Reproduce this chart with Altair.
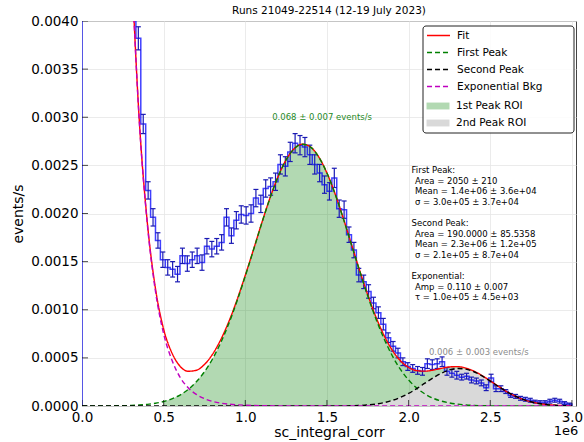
import altair as alt
import numpy as np
import pandas as pd

TITLE = "Runs 21049-22514 (12-19 July 2023)"
X_LABEL = "sc_integral_corr"
Y_LABEL = "events/s"
FONT = "DejaVu Sans"

# ---------------- histogram (x in units of 1e6, 100 bins of 0.03e6) ----------------
bin_edges = [round(0.03 * k, 2) for k in range(101)]
# bins 0-10 lie above the top of the axis (off-scale)
rate = [
    0.0050, 0.0050, 0.0050, 0.0050, 0.0050, 0.0050, 0.0050, 0.0050, 0.0050, 0.0050,
    0.0050, 0.00382, 0.00293, 0.00224, 0.00196, 0.00172, 0.00152, 0.00144, 0.00142, 0.00137,
    0.00156, 0.00148, 0.00152, 0.00156, 0.00149, 0.00166, 0.00163, 0.00166, 0.00170, 0.00196,
    0.00177, 0.00193, 0.00199, 0.00198, 0.00200, 0.00216, 0.00210, 0.00226, 0.00228, 0.00233,
    0.00251, 0.00249, 0.00264, 0.00273, 0.00271, 0.00269, 0.00261, 0.00251, 0.00242, 0.00230,
    0.00223, 0.00237, 0.00205, 0.00204, 0.00178, 0.00162, 0.00136, 0.00129, 0.00119, 0.00107,
    0.00097, 0.00085, 0.00071, 0.00062, 0.00055, 0.00046, 0.00041, 0.00039, 0.00037, 0.00036,
    0.00044, 0.00043, 0.00044, 0.00046, 0.00036, 0.00034, 0.00032, 0.00030, 0.00031, 0.00027,
    0.00026, 0.00024, 0.00019, 0.00029, 0.00018, 0.00018, 0.00015, 0.00011, 0.00010, 0.00008,
    0.00007, 0.00006, 0.000045, 0.00004, 0.00004, 0.00005, 0.00006, 0.00005, 0.00003, 0.00002,
]
rate_err = [
    0.00015, 0.00015, 0.00015, 0.00015, 0.00015, 0.00015, 0.00015, 0.00015, 0.00015, 0.00015,
    0.00015, 0.00012, 0.00010, 0.00009, 0.00009, 0.00008, 0.00008, 0.00008, 0.00008, 0.00008,
    0.00008, 0.00008, 0.00008, 0.00008, 0.00008, 0.00008, 0.00008, 0.00008, 0.00008, 0.00009,
    0.00008, 0.00009, 0.00009, 0.00009, 0.00009, 0.00009, 0.00009, 0.00009, 0.00009, 0.00009,
    0.00010, 0.00010, 0.00010, 0.00010, 0.00010, 0.00010, 0.00010, 0.00010, 0.00009, 0.00009,
    0.00009, 0.00010, 0.00009, 0.00009, 0.00008, 0.00008, 0.00007, 0.00007, 0.00007, 0.00006,
    0.00006, 0.00006, 0.00005, 0.00005, 0.00005, 0.00004, 0.00004, 0.00004, 0.00004, 0.00004,
    0.00005, 0.00005, 0.00005, 0.00005, 0.00004, 0.00004, 0.00004, 0.00003, 0.00003, 0.00003,
    0.00003, 0.00003, 0.00003, 0.00004, 0.00003, 0.00003, 0.00002, 0.00002, 0.00002, 0.00002,
    0.00002, 0.00002, 0.000015, 0.000015, 0.000015, 0.00002, 0.00002, 0.00002, 0.000015, 0.00001,
]

# ---------------- fitted curves (x in units of 1e6) ----------------
curve_x = [round(0.05 * k, 2) for k in range(61)]
first_peak = [
    0, 0, 0, 0.000001, 0.000002, 0.000003, 0.0000056, 0.00001, 0.000017, 0.000029,
    0.000047, 0.000074, 0.000114, 0.000171, 0.000251, 0.000356, 0.000491, 0.00066, 0.000861, 0.001094,
    0.001351, 0.00162, 0.001895, 0.002154, 0.00238, 0.002558, 0.002674, 0.00272, 0.00269, 0.002587,
    0.00242, 0.002203, 0.001949, 0.001677, 0.001404, 0.001143, 0.000905, 0.000697, 0.000522, 0.00038,
    0.00027, 0.000186, 0.000125, 0.000081, 0.000051, 0.000032, 0.000019, 0.000011, 0.000006, 0.0000035,
    0.0000017, 0.000001, 0, 0, 0, 0, 0, 0, 0, 0, 0,
]
second_peak = [
    0, 0, 0, 0, 0, 0, 0, 0, 0, 0,
    0, 0, 0, 0, 0, 0, 0, 0, 0, 0,
    0, 0, 0, 0, 0, 0, 0, 0, 0, 0,
    0, 0.0000006, 0.0000013, 0.0000028, 0.0000057, 0.000011, 0.00002, 0.000035, 0.000058, 0.00009,
    0.000131, 0.000181, 0.000237, 0.000292, 0.00034, 0.000374, 0.00039, 0.000383, 0.000356, 0.000312,
    0.000259, 0.000203, 0.00015, 0.000105, 0.000069, 0.000044, 0.000026, 0.000014, 0.0000075, 0.0000037,
    0.0000018,
]
# None = above the top of the axis
exp_bkg = [
    None, None, None, None, None, None, 0.0047, 0.00298, 0.00189, 0.00119,
    0.00075, 0.00048, 0.00030, 0.00019, 0.00012, 0.000076, 0.000048, 0.00003, 0.000019, 0.000012,
    0.0000076, 0.0000048, 0.000003, 0.0000019, 0.0000012, 0.0000008, 0.0000005, 0, 0, 0,
    0, 0, 0, 0, 0, 0, 0, 0, 0, 0,
    0, 0, 0, 0, 0, 0, 0, 0, 0, 0,
    0, 0, 0, 0, 0, 0, 0, 0, 0, 0,
    0,
]
roi1_range = (0.5, 2.5)
roi2_range = (1.8, 3.0)

x_ticks = [0.0, 0.5, 1.0, 1.5, 2.0, 2.5, 3.0]
y_ticks = [0.0, 0.0005, 0.0010, 0.0015, 0.0020, 0.0025, 0.0030, 0.0035, 0.0040]

series_names = ["Fit", "First Peak", "Second Peak", "Exponential Bkg"]
series_colors = ["#ff0000", "#008000", "#000000", "#bf00bf"]
roi_names = ["1st Peak ROI", "2nd Peak ROI"]
roi_colors = ["#008000", "#808080"]

ann_text = ["0.068 \u00b1 0.007 events/s", "0.006 \u00b1 0.003 events/s"]
ann_x = [1.47, 2.43]
ann_y = [0.0030, 0.00056]
ann_color = ["#1f8a1f", "#8c8c8c"]

# fit-result text block: (text, indented?) ; None = blank line
param_lines = [
    ("First Peak:", False),
    ("Area = 2050 \u00b1 210", True),
    ("Mean = 1.4e+06 \u00b1 3.6e+04", True),
    ("\u03c3 = 3.0e+05 \u00b1 3.7e+04", True),
    None,
    ("Second Peak:", False),
    ("Area = 190.0000 \u00b1 85.5358", True),
    ("Mean = 2.3e+06 \u00b1 1.2e+05", True),
    ("\u03c3 = 2.1e+05 \u00b1 8.7e+04", True),
    None,
    ("Exponential:", False),
    ("Amp = 0.110 \u00b1 0.007", True),
    ("\u03c4 = 1.0e+05 \u00b1 4.5e+03", True),
]

# ---------------- tables ----------------
rows = [{"x": bin_edges[0], "y": 0.0, "o": 0}]
for k in range(100):
    rows.append({"x": bin_edges[k], "y": rate[k], "o": k + 1})
rows.append({"x": bin_edges[100], "y": rate[99], "o": 101})
rows.append({"x": bin_edges[100], "y": 0.0, "o": 102})
hist_df = pd.DataFrame(rows)

err_df = pd.DataFrame({
    "xc": [round((bin_edges[k] + bin_edges[k + 1]) / 2, 4) for k in range(100)],
    "lo": [rate[k] - rate_err[k] for k in range(100)],
    "hi": [rate[k] + rate_err[k] for k in range(100)],
})

fit_vals = [None if e is None else e + a + b for e, a, b in zip(exp_bkg, first_peak, second_peak)]
curve_rows = []
for name, vals in zip(series_names, [fit_vals, first_peak, second_peak, exp_bkg]):
    for i, (xv, yv) in enumerate(zip(curve_x, vals)):
        if yv is not None:
            curve_rows.append({"x": xv, "y": yv, "series": name, "i": i})
curve_df = pd.DataFrame(curve_rows)

roi_rows = []
for xv, yv in zip(curve_x, first_peak):
    if roi1_range[0] <= xv <= roi1_range[1]:
        roi_rows.append({"x": xv, "y": yv, "roi": roi_names[0]})
for xv, yv in zip(curve_x, second_peak):
    if roi2_range[0] <= xv <= roi2_range[1]:
        roi_rows.append({"x": xv, "y": yv, "roi": roi_names[1]})
roi_df = pd.DataFrame(roi_rows)

ann_df = pd.DataFrame({"x": ann_x, "y": ann_y, "t": ann_text, "c": ann_color})
one_df = pd.DataFrame({"t": [""]})
xt_df = pd.DataFrame({"v": x_ticks})
yt_df = pd.DataFrame({"v": y_ticks})

# ---------------- scales / axes ----------------
W, H = 494, 385
x_scale = alt.Scale(domain=[0, 3.025], nice=False, zero=False)
y_scale = alt.Scale(domain=[0, 0.004], nice=False, zero=False)
axis_style = dict(ticks=False, domain=False, grid=True, labelPadding=4, labelFlush=False,
                  labelFont=FONT, labelFontSize=13.5, labelColor="#000",
                  labelFontWeight="normal", titleFont=FONT, titleFontSize=14,
                  titleFontWeight="normal", titleColor="#000",
                  gridColor="#e6e6e6", gridWidth=0.8)
x_axis = alt.Axis(values=x_ticks, format=".1f", title=X_LABEL, titlePadding=2, **axis_style)
y_axis = alt.Axis(values=y_ticks, format=".4f", title=Y_LABEL, titlePadding=5, **axis_style)


def X(field):
    return alt.X(field, type="quantitative", scale=x_scale, axis=x_axis)


def Y(field):
    return alt.Y(field, type="quantitative", scale=y_scale, axis=y_axis)


roi_layer = alt.Chart(roi_df).mark_area(opacity=0.3, clip=True).encode(
    x=X("x"), y=Y("y"),
    fill=alt.Fill("roi:N", scale=alt.Scale(domain=roi_names, range=roi_colors),
                  legend=alt.Legend(title=None, orient="none", legendX=350, legendY=79,
                                    symbolType="M-2,-0.6H2V0.6H-2Z", symbolSize=132,
                                    symbolOpacity=0.3, symbolStrokeWidth=0,
                                    labelFont=FONT, labelFontSize=10.5, labelColor="#000",
                                    labelFontWeight="normal",
                                    labelOffset=12, rowPadding=5, padding=0)),
)

hist_layer = alt.Chart(hist_df).mark_line(
    interpolate="step-after", color="#0000ff", opacity=0.75, strokeWidth=1.5, clip=True
).encode(x=X("x"), y=Y("y"), order=alt.Order("o:Q"))

err_layer = alt.Chart(err_df).mark_rule(color="#1a1ab4", strokeWidth=1.2, clip=True).encode(
    x=X("xc"), y=Y("lo"), y2="hi")
cap_hi = alt.Chart(err_df).mark_rule(color="#1a1ab4", strokeWidth=1.2, clip=True,
                                     xOffset=-2.5, x2Offset=2.5).encode(
    x=X("xc"), x2="xc", y=Y("hi"))
cap_lo = alt.Chart(err_df).mark_rule(color="#1a1ab4", strokeWidth=1.2, clip=True,
                                     xOffset=-2.5, x2Offset=2.5).encode(
    x=X("xc"), x2="xc", y=Y("lo"))

line_legend = alt.Legend(title=None, orient="none", legendX=350, legendY=8,
                         symbolType="M-2,0H2", symbolSize=132, symbolStrokeWidth=1.5,
                         labelFont=FONT, labelFontSize=10.5, labelColor="#000",
                         labelFontWeight="normal",
                         labelOffset=12, rowPadding=5, padding=0)
curve_layer = alt.Chart(curve_df).mark_line(interpolate="monotone", strokeWidth=1.4, clip=True).encode(
    x=X("x"), y=Y("y"),
    color=alt.Color("series:N", scale=alt.Scale(domain=series_names, range=series_colors),
                    legend=line_legend),
    strokeDash=alt.StrokeDash("series:N",
                              scale=alt.Scale(domain=series_names,
                                              range=[[1, 0], [5, 3], [5, 3], [5, 3]]),
                              legend=line_legend),
    order=alt.Order("i:Q"),
)

xtick_layer = alt.Chart(xt_df).mark_tick(orient="vertical", size=12, thickness=1,
                                         color="#000", clip=True).encode(
    x=X("v"), y=alt.datum(0))
ytick_layer = alt.Chart(yt_df).mark_tick(orient="horizontal", size=12, thickness=1,
                                         color="#000", clip=True).encode(
    y=Y("v"), x=alt.datum(0))

legend_box = alt.Chart(one_df).mark_rect(
    fill="white", fillOpacity=0.85, stroke="#222", strokeWidth=1, cornerRadius=3
).encode(x=alt.value(341), x2=alt.value(492), y=alt.value(5), y2=alt.value(112))

ann_layer = alt.Chart(ann_df).mark_text(font=FONT, fontSize=8.5, align="center",
                                        baseline="middle").encode(
    x=X("x"), y=Y("y"), text="t:N", color=alt.Color("c:N", scale=None))

# text block placed in plot-area pixels, like axes-fraction text
param_layers = []
BLOCK_X, BLOCK_Y, LINE_H, INDENT = 329.5, 149, 10.6, 3.5
for idx, item in enumerate(param_lines):
    if item is None:
        continue
    txt, indented = item
    param_layers.append(
        alt.Chart(one_df).mark_text(font=FONT, fontSize=8.5, align="left", baseline="middle",
                                    color="#000").encode(
            x=alt.value(BLOCK_X + (INDENT if indented else 0)),
            y=alt.value(BLOCK_Y + idx * LINE_H),
            text=alt.value(txt))
    )

offset_layer = alt.Chart(one_df).mark_text(font=FONT, fontSize=13, align="center",
                                           baseline="middle", color="#000").encode(
    x=alt.value(484), y=alt.value(410), text=alt.value("1e6"))

chart = alt.layer(
    roi_layer, hist_layer, err_layer, cap_hi, cap_lo, curve_layer,
    xtick_layer, ytick_layer, legend_box, ann_layer, *param_layers, offset_layer,
).properties(
    width=W, height=H,
    background="white",
    title=alt.TitleParams(TITLE, font=FONT, fontSize=10.5, fontWeight="normal",
                          color="#000", anchor="middle", offset=-2),
    autosize=alt.AutoSizeParams(type="none"),
    padding={"left": 82, "top": 21, "right": 8, "bottom": 36},
).configure_view(
    stroke="#444", strokeWidth=1
).configure_legend(
    labelFontWeight="normal"
)

chart.save("out.html", embed_options={"renderer": "svg", "actions": False})
